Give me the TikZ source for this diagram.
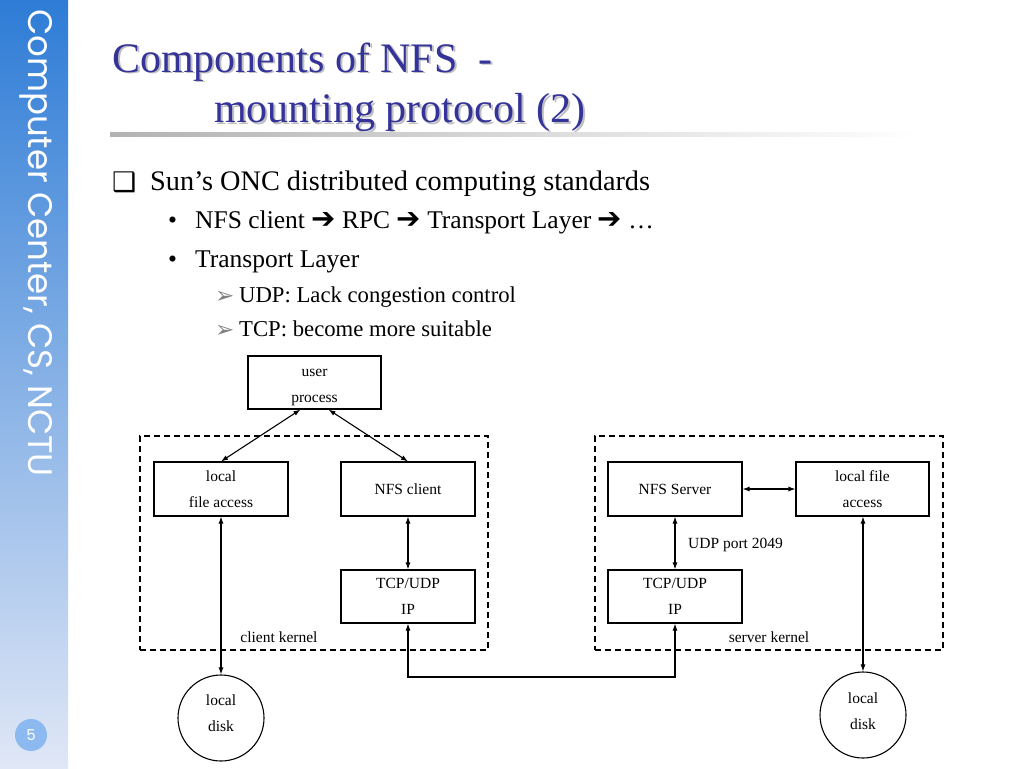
\documentclass[tikz,border=0pt]{standalone}
\usepackage{fontspec}
\setmainfont{Liberation Serif}
\newfontfamily\dejavu{DejaVu Sans}
\newfontfamily\sidefont{Poppins}
\usetikzlibrary{arrows.meta,calc}
\definecolor{sidetop}{RGB}{46,124,214}
\definecolor{sidebot}{RGB}{224,231,246}
\definecolor{titleblue}{RGB}{51,51,153}
\definecolor{pagecol}{RGB}{140,186,240}
\begin{document}
\begin{tikzpicture}[x=1pt,y=-1pt,
  dfont/.style={font=\fontsize{15.5}{26}\selectfont},
  box/.style={draw, line width=1.1pt, minimum width=134pt, minimum height=54pt, inner sep=0pt, align=center, dfont},
  disk/.style={draw, line width=1.1pt, circle, minimum size=86pt, inner sep=0pt, align=center, dfont},
  kernel/.style={draw, line width=1.1pt, dash pattern=on 6pt off 4pt, inner sep=0pt},
  biarrow/.style={line width=1.1pt, {Latex[length=7pt,width=5pt]}-{Latex[length=7pt,width=5pt]}},
  lbl/.style={anchor=base west, inner sep=0pt},
  titlefont/.style={font=\fontsize{42}{42}\selectfont},
  arr/.style={}
]
\newcommand{\rarr}{{\dejavu\fontsize{29}{29}\selectfont ➔}}
\useasboundingbox (0,0) rectangle (1024,768);
\fill[white] (0,0) rectangle (1024,768);
% sidebar
\shade[top color=sidetop, bottom color=sidebot] (0,0) rectangle (68,768);
\node[rotate=-90, anchor=west, inner sep=0pt, text=white, font=\sidefont\fontsize{34}{34}\selectfont] (side) at (36,9) {Computer Center, CS, NCTU};
\node[circle, fill=pagecol, minimum size=32pt, inner sep=0pt, text=white, font=\sidefont\fontsize{15}{15}\selectfont] (pg) at (31,735) {5};
% title
\node[lbl, titlefont, text=gray!50] (t1s) at (114,74) {Components of NFS\ \ -};
\node[lbl, titlefont, text=titleblue] (t1) at (112,72) {Components of NFS\ \ -};
\node[lbl, titlefont, text=gray!50] (t2s) at (216,124) {mounting protocol (2)};
\node[lbl, titlefont, text=titleblue] (t2) at (214,122) {mounting protocol (2)};
\shade[left color=gray!60, right color=white] (110,132) rectangle (920,136);
% bullets
\node[lbl, font=\dejavu\fontsize{27}{27}\selectfont] (b1) at (112,191) {❑};
\node[lbl, font=\fontsize{28.3}{28.3}\selectfont] (b1t) at (150,190) {Sun’s ONC distributed computing standards};
\node[lbl, font=\fontsize{25.5}{25.5}\selectfont] (b2) at (168,228) {•};
\node[lbl, font=\fontsize{25.5}{25.5}\selectfont] (b2t) at (195,228) {NFS client \rarr{} RPC \rarr{} Transport Layer \rarr{} …};
\node[lbl, font=\fontsize{25.5}{25.5}\selectfont] (b3) at (168,267) {•};
\node[lbl, font=\fontsize{25.5}{25.5}\selectfont] (b3t) at (195,267) {Transport Layer};
\node[lbl, font=\dejavu\fontsize{23}{23}\selectfont, text=gray] (b4) at (215,303) {➢};
\node[lbl, font=\fontsize{22.7}{22.7}\selectfont] (b4t) at (239,302) {UDP: Lack congestion control};
\node[lbl, font=\dejavu\fontsize{23}{23}\selectfont, text=gray] (b5) at (215,337) {➢};
\node[lbl, font=\fontsize{22.7}{22.7}\selectfont] (b5t) at (239,336) {TCP: become more suitable};
% kernels
\node[kernel, minimum width=348pt, minimum height=214pt] (ck) at (314,543) {};
\node[kernel, minimum width=348pt, minimum height=214pt] (sk) at (769,543) {};
\node[dfont, inner sep=0pt] (ckl) at (279,637) {client kernel};
\node[dfont, inner sep=0pt] (skl) at (769,637) {server kernel};
% boxes
\node[box, minimum width=133pt, minimum height=53pt, label={[dfont, align=center, yshift=-5pt]center:user\\process}] (user) at (314.5,382.5) {};
\node[box] (lfa) at (221,489) {local\\file access};
\node[box] (nfsc) at (408,489) {NFS client};
\node[box, minimum height=53pt] (tcpc) at (408,596.5) {TCP/UDP\\IP};
\node[box] (nfss) at (675,489) {NFS Server};
\node[box, minimum width=133pt] (lfas) at (862.5,489) {local file\\access};
\node[box, minimum height=53pt] (tcps) at (675,596.5) {TCP/UDP\\IP};
\node[disk, label={[dfont, align=center, yshift=5pt]center:local\\disk}] (d1) at (221,718) {};
\node[disk, label={[dfont, align=center, yshift=4pt]center:local\\disk}] (d2) at (863,715) {};
% connectors
\draw[biarrow] ([xshift=-14pt]user.south) -- (lfa.north);
\draw[biarrow] ([xshift=14pt]user.south) -- (nfsc.north);
\draw[biarrow] (nfsc.south) -- (tcpc.north);
\draw[biarrow] (lfa.south) -- (d1.north);
\draw[biarrow] (nfss.east) -- (lfas.west);
\draw[biarrow] (nfss.south) -- (tcps.north);
\node[lbl, dfont] (udp) at (688,548) {UDP port 2049};
\draw[biarrow] ([xshift=0.5pt]lfas.south) -- (d2.north);
\coordinate (net) at (540,677);
\draw[biarrow] (tcpc.south) |- (net) -| (tcps.south);
\end{tikzpicture}
\end{document}
